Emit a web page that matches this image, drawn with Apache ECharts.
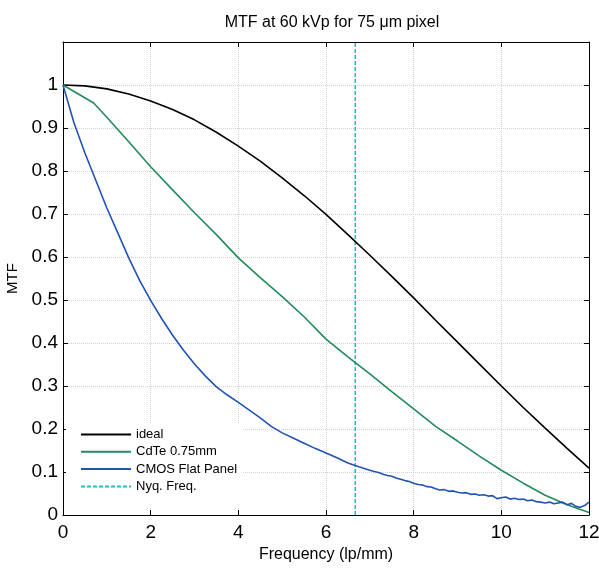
<!DOCTYPE html>
<html>
<head>
<meta charset="utf-8">
<script src="https://cdn.jsdelivr.net/npm/echarts@6/dist/echarts.min.js"></script>
<style>html,body{margin:0;padding:0;background:#fff}#c{width:599px;height:568px}</style>
</head>
<body>
<div id="c"></div>
<script>
// ---- data ----
const idealFreq = [0,0.5,1,1.5,2,2.5,3,3.5,4,4.5,5,5.5,6,6.5,7,7.5,8,8.5,9,9.5,10,10.5,11,11.5,12];
const idealMTF  = [1,0.998,0.991,0.979,0.963,0.943,0.919,0.890,0.858,0.823,0.784,0.743,0.699,0.652,0.604,0.555,0.505,0.453,0.402,0.351,0.300,0.250,0.202,0.155,0.109];

const cdteFreq = [0,0.7,1,1.5,2,2.5,3,3.5,4,4.5,5,5.5,6,6.5,7,7.5,8,8.5,9,9.5,10,10.5,11,11.5,12];
const cdteMTF  = [1,0.958,0.925,0.868,0.810,0.756,0.703,0.652,0.598,0.552,0.508,0.461,0.409,0.368,0.328,0.287,0.247,0.206,0.172,0.137,0.104,0.074,0.046,0.024,0.006];

const cmosFreq = [0,0.25,0.5,0.75,1,1.25,1.5,1.75,2,2.25,2.5,2.75,3,3.25,3.5,3.75,4,4.25,4.5,4.75,5,5.25,5.5,5.75,6,6.25,6.5,6.75,
  7.0,7.1,7.2,7.3,7.4,7.5,7.6,7.7,7.8,7.9,8.0,8.1,8.2,8.3,8.4,8.5,8.6,8.7,8.8,8.9,9.0,9.1,9.2,9.3,9.4,9.5,9.6,9.7,9.8,9.9,
  10.0,10.1,10.2,10.3,10.4,10.5,10.6,10.7,10.8,10.9,11.0,11.1,11.2,11.3,11.4,11.5,11.6,11.7,11.8,11.9,12.0];
const cmosMTF  = [1,0.912,0.842,0.778,0.714,0.656,0.598,0.545,0.499,0.457,0.418,0.383,0.351,0.323,0.298,0.279,0.262,0.244,0.226,0.206,0.191,0.179,0.167,0.155,0.144,0.133,0.121,0.112,
  0.104,0.101,0.099,0.095,0.092,0.090,0.086,0.083,0.080,0.078,0.074,0.071,0.070,0.066,0.065,0.061,0.058,0.059,0.055,0.056,0.053,0.051,0.052,0.048,0.049,0.046,0.047,0.044,0.045,0.038,
  0.040,0.042,0.037,0.039,0.036,0.037,0.033,0.035,0.031,0.030,0.028,0.030,0.026,0.028,0.030,0.024,0.027,0.020,0.018,0.022,0.030];

const nyqFreq = [6.667, 6.667];
const nyqMTF  = [0, 1.1];

const xTicks = [0,2,4,6,8,10,12];
const yTicks = [0,0.1,0.2,0.3,0.4,0.5,0.6,0.7,0.8,0.9,1];

const seriesNames = ['ideal','CdTe 0.75mm','CMOS Flat Panel','Nyq. Freq.'];

function pairs(xs, ys){ return xs.map((x,i)=>[x, ys[i]]); }

const FONT = '"Liberation Sans", Arial, sans-serif';
const chart = echarts.init(document.getElementById('c'), null, {renderer:'canvas'});

const gridLine = {show:true, lineStyle:{color:'#d2d2d2', type:[1,1], width:1}};
const axLine = {show:true, onZero:false, lineStyle:{color:'#000', width:1}};

chart.setOption({
  animation:false,
  backgroundColor:'#fff',
  title:{
    text:'MTF at 60 kVp for 75 \u03bcm pixel',
    left:327, top:10, textAlign:'center',
    textStyle:{fontFamily:FONT, fontSize:16, fontWeight:'normal', color:'#000'}
  },
  grid:{left:63, right:10, top:42, bottom:53, containLabel:false, outerBoundsMode:'none'},
  legend:{
    orient:'vertical', left:66, top:424,
    padding:[4,6,14,14],
    backgroundColor:'#fff',
    itemWidth:50, itemHeight:14, itemGap:4.3,
    itemStyle:{opacity:0},
    textStyle:{fontFamily:FONT, fontSize:13, color:'#000'},
    data:seriesNames
  },
  xAxis:[{
    type:'value', min:0, max:12, interval:2,
    name:'Frequency (lp/mm)', nameLocation:'middle', nameGap:27,
    nameTextStyle:{fontFamily:FONT, fontSize:16, color:'#000'},
    axisLine:axLine,
    axisTick:{show:true, inside:true, length:5, lineStyle:{color:'#000'}},
    axisLabel:{fontFamily:FONT, fontSize:19, color:'#000', margin:8,
      formatter:v=> xTicks.includes(v) ? String(v) : ''},
    splitLine:gridLine
  },{
    type:'value', min:0, max:12, interval:2, position:'top',
    axisLine:axLine,
    axisTick:{show:true, inside:true, length:5, lineStyle:{color:'#000'}},
    axisLabel:{show:false}, splitLine:{show:false}
  }],
  yAxis:[{
    type:'value', min:0, max:1.1, interval:0.1,
    name:'MTF', nameLocation:'middle', nameGap:43, nameRotate:90,
    nameTextStyle:{fontFamily:FONT, fontSize:15, color:'#000'},
    axisLine:axLine,
    axisTick:{show:true, inside:true, length:5, lineStyle:{color:'#000'}},
    axisLabel:{fontFamily:FONT, fontSize:19, color:'#000', margin:5,
      formatter:v=>{ const r=Math.round(v*10)/10; return yTicks.includes(r) ? String(r) : ''; }},
    splitLine:gridLine
  },{
    type:'value', min:0, max:1.1, interval:0.1, position:'right',
    axisLine:axLine,
    axisTick:{show:true, inside:true, length:5, lineStyle:{color:'#000'}},
    axisLabel:{show:false}, splitLine:{show:false}
  }],
  series:[
    {name:seriesNames[0], type:'line', data:pairs(idealFreq, idealMTF), symbol:'none', smooth:false,
      lineStyle:{color:'#000000', width:1.6}, itemStyle:{color:'#000000'}, z:3},
    {name:seriesNames[1], type:'line', data:pairs(cdteFreq, cdteMTF), symbol:'none',
      lineStyle:{color:'#238a5c', width:1.6}, itemStyle:{color:'#238a5c'}, z:3},
    {name:seriesNames[2], type:'line', data:pairs(cmosFreq, cmosMTF), symbol:'none',
      lineStyle:{color:'#2153b3', width:1.6}, itemStyle:{color:'#2153b3'}, z:3},
    {name:seriesNames[3], type:'line', data:pairs(nyqFreq, nyqMTF), symbol:'none',
      lineStyle:{color:'#20bcc4', width:1.5, type:[4,2]}, itemStyle:{color:'#20bcc4'}, z:2}
  ]
});
</script>
</body>
</html>
